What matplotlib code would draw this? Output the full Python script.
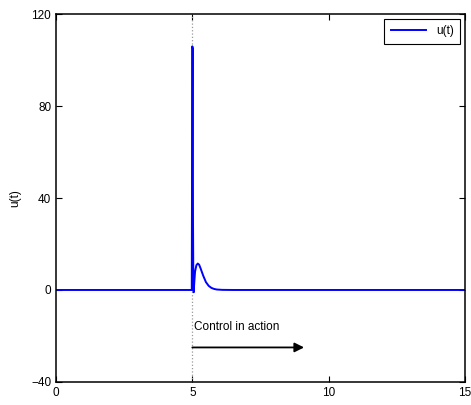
import matplotlib
matplotlib.use("Agg")
import matplotlib.pyplot as plt

plt.rcParams['font.family'] = ['Liberation Sans', 'DejaVu Sans']

# control signal
t = [0, 4.98, 5.0, 5.015, 5.025, 5.035, 5.05, 5.07, 5.1, 5.15, 5.2, 5.25, 5.3,
     5.4, 5.5, 5.6, 5.7, 5.8, 5.9, 6.1, 6.5, 15]
u = [0, 0, 106, 105, 30, 8, -1, 3, 8, 10.8, 11.5, 11, 9.5,
     6.2, 3.4, 1.8, 0.9, 0.45, 0.2, 0.05, 0, 0]

x_ticks = [0, 5, 10, 15]
y_ticks = [-40, 0, 40, 80, 120]
t_on = 5
arrow_start, arrow_end, arrow_y = 5.0, 9.1, -25
note = "Control in action"

fig = plt.figure(figsize=(4.71, 4.05), dpi=100)
ax = fig.add_axes([0.119, 0.057, 0.868, 0.908])

ax.axvline(t_on, color='0.6', linestyle=':', linewidth=0.9)
ax.plot(t, u, color='#0000ff', linewidth=1.4, label='u(t)')

ax.annotate('', xy=(arrow_end, arrow_y), xytext=(arrow_start, arrow_y),
            arrowprops=dict(arrowstyle='-|>', color='black', lw=1.3,
                            mutation_scale=14, shrinkA=0, shrinkB=0))
ax.text(5.05, -16, note, fontsize=8.5, va='center', ha='left')

ax.set_xlim(0, 15)
ax.set_ylim(-40, 120)
ax.set_xticks(x_ticks)
ax.set_yticks(y_ticks)
ax.tick_params(direction='in', top=True, right=True, labelsize=8.5, length=4)
ax.set_ylabel('u(t)', fontsize=8.5, labelpad=7)
for s in ax.spines.values():
    s.set_linewidth(1.1)

leg = ax.legend(loc='upper right', fontsize=8.5, fancybox=False, framealpha=1,
                edgecolor='black', handlelength=3.0, borderpad=0.55,
                borderaxespad=0.4)
leg.get_frame().set_linewidth(0.8)

fig.savefig('out.png', dpi=100)
